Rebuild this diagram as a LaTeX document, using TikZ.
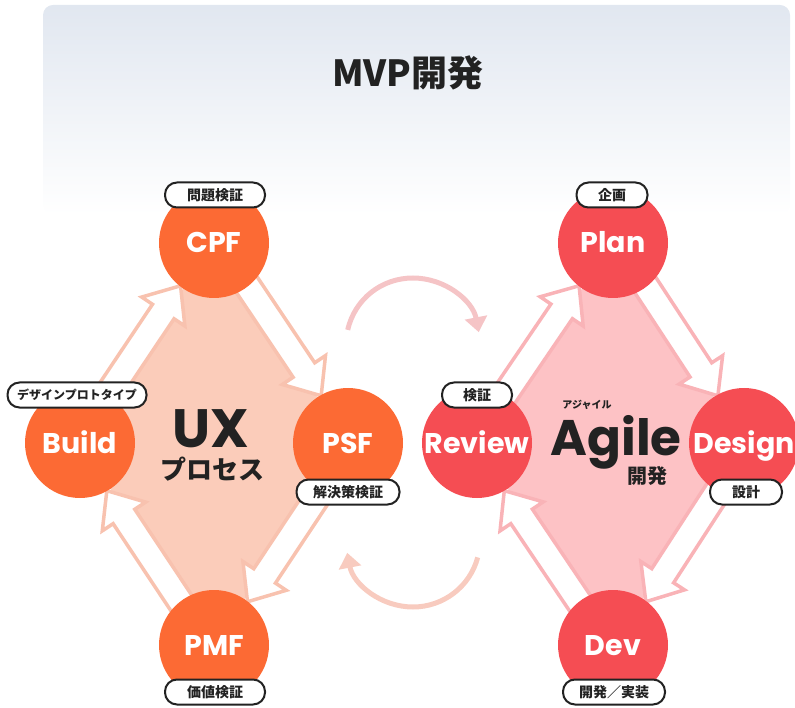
\documentclass[tikz,border=0pt]{standalone}
\usepackage{fontspec}
\setmainfont{Poppins}
\newfontfamily\jp{Noto Sans CJK JP}
\usetikzlibrary{calc,arrows.meta}
\pgfdeclarelayer{bg}
\pgfdeclarelayer{mid}
\pgfsetlayers{bg,mid,main}
\definecolor{orangeC}{HTML}{FC6A34}
\definecolor{redC}{HTML}{F54D53}
\definecolor{uxFill}{HTML}{FBCCBA}
\definecolor{agFill}{HTML}{FDC2C5}
\definecolor{uxLine}{HTML}{F8C2AF}
\definecolor{agLine}{HTML}{F9B3B7}
\definecolor{arcTop}{HTML}{F5C4C6}
\definecolor{arcBot}{HTML}{F8CBBF}
\definecolor{bgTop}{HTML}{E1E7F0}
\definecolor{ink}{HTML}{222222}
\tikzset{
  stage/.style={circle, minimum size=110pt, inner sep=0pt, text=white,
    font=\bfseries\fontsize{28.5}{30}\selectfont, text height=20pt, text depth=0pt},
  uxstage/.style={stage, fill=orangeC},
  agstage/.style={stage, fill=redC},
  pill/.style={draw=ink, line width=2pt, fill=white, rounded corners=12pt,
    minimum height=25pt, inner xsep=0pt, inner ysep=0pt, text=ink,
    font=\jp\bfseries\fontsize{14}{14}\selectfont},
  arcline/.style={line width=5pt, -{Triangle[length=15pt,width=22pt]}},
}
\newcommand\blockarrow[3]{%
  \path (#1.center) -- (#2.center) coordinate[pos=0.2] (ba-s) coordinate[pos=0.775] (ba-e);
  \coordinate (ba-s2) at ($(ba-s)!4pt!90:(ba-e)$);
  \coordinate (ba-e2) at ($(ba-e)!4pt!-90:(ba-s)$);
  \coordinate (ba-h) at ($(ba-e2)!31pt!(ba-s2)$);
  \filldraw[fill=white, draw=#3, line width=3.5pt, line join=miter]
    ($(ba-s2)!13pt!90:(ba-e2)$) -- ($(ba-h)!13pt!90:(ba-e2)$) -- ($(ba-h)!26pt!90:(ba-e2)$)
    -- (ba-e2) -- ($(ba-h)!26pt!-90:(ba-e2)$) -- ($(ba-h)!13pt!-90:(ba-e2)$)
    -- ($(ba-s2)!13pt!-90:(ba-e2)$) -- cycle;
}
\begin{document}
\begin{tikzpicture}[x=1pt, y=-1pt]
\useasboundingbox (0,0) rectangle (795,708);
% header panel
\shade[top color=bgTop, bottom color=white, rounded corners=10pt] (43,5) rectangle (790,215);
\node[font=\jp\bfseries\fontsize{36}{36}\selectfont, text=ink] (title) at (408,73) {MVP開発};

% UX cycle
\node[uxstage] (cpf) at (214,243) {CPF};
\node[uxstage] (build) at (80,443) {Build};
\node[uxstage] (psf) at (348,443) {PSF};
\node[uxstage] (pmf) at (214,645) {PMF};
% Agile cycle
\node[agstage] (plan) at (613,243) {Plan};
\node[agstage] (review) at (477,443) {Review};
\node[agstage] (design) at (744,443) {Design};
\node[agstage] (dev) at (613,645) {Dev};

\begin{pgfonlayer}{bg}
  \fill[uxFill] (cpf.center) -- (psf.center) -- (pmf.center) -- (build.center) -- cycle;
  \fill[agFill] (plan.center) -- (design.center) -- (dev.center) -- (review.center) -- cycle;
\end{pgfonlayer}
\begin{pgfonlayer}{mid}
  \blockarrow{cpf}{psf}{uxLine}
  \blockarrow{psf}{pmf}{uxLine}
  \blockarrow{pmf}{build}{uxLine}
  \blockarrow{build}{cpf}{uxLine}
  \blockarrow{plan}{design}{agLine}
  \blockarrow{design}{dev}{agLine}
  \blockarrow{dev}{review}{agLine}
  \blockarrow{review}{plan}{agLine}
\end{pgfonlayer}

% labels
\node[pill, minimum width=100pt] (l-cpf) at (215,195) {問題検証};
\node[pill, minimum width=139pt, font=\jp\bfseries\fontsize{12}{12}\selectfont] (l-build) at (77,395) {デザインプロトタイプ};
\node[pill, minimum width=103pt] (l-psf) at (348,492) {解決策検証};
\node[pill, minimum width=100pt] (l-pmf) at (215,692) {価値検証};
\node[pill, minimum width=71pt] (l-plan) at (612,195) {企画};
\node[pill, minimum width=70pt] (l-review) at (477,395) {検証};
\node[pill, minimum width=72pt] (l-design) at (746,492) {設計};
\node[pill, minimum width=102pt] (l-dev) at (614,692) {開発／実装};

% centre texts
\node[font=\bfseries\fontsize{54}{54}\selectfont, text=ink, anchor=base, inner sep=0pt, text depth=0pt] (ux) at (211,447) {UX};
\node[font=\jp\bfseries\fontsize{26}{26}\selectfont, text=ink, inner sep=0pt] (uxsub) at (212,469) {プロセス};
\node[font=\jp\bfseries\fontsize{10}{10}\selectfont, text=ink] (agkana) at (587,405) {アジャイル};
\node[font=\bfseries\fontsize{50}{50}\selectfont, text=ink, anchor=base, inner sep=0pt, text depth=0pt] (agile) at (616,455) {Agile};
\node[font=\jp\bfseries\fontsize{20}{20}\selectfont, text=ink, inner sep=0pt] (agsub) at (647,476) {開発};

% transitions between the cycles
\coordinate (t-a) at (347.7,329.9);
\coordinate (t-top) at (413,278);
\coordinate (t-b) at (478.8,332.2);
\draw[arcline, arcTop] (t-a) .. controls (354.8,299.1) and (381.4,278) .. (t-top)
  .. controls (445.1,278) and (472.7,300.7) .. (t-b);
\coordinate (b-a) at (477.7,557.4);
\coordinate (b-bot) at (413,607);
\coordinate (b-b) at (347.2,552.8);
\draw[arcline, arcBot] (b-a) .. controls (469.9,586.7) and (443.3,607) .. (b-bot)
  .. controls (380.9,607) and (353.3,584.3) .. (b-b);
\end{tikzpicture}
\end{document}
